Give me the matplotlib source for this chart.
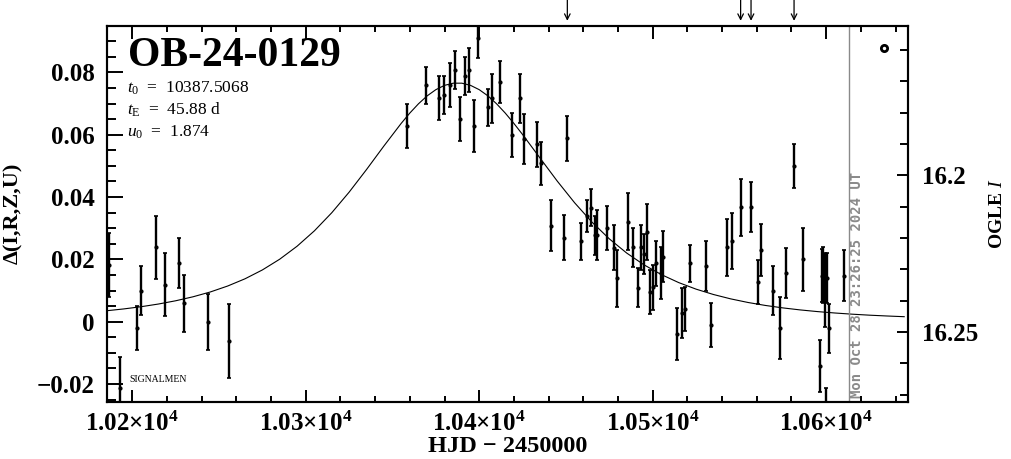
import numpy as np
from matplotlib import pyplot as plt
from matplotlib.ticker import MultipleLocator, FixedLocator, FixedFormatter

# photometry (HJD - 2450000, delta mag, error)
hjd = [10186.6, 10192.9, 10202.7, 10204.8, 10213.7, 10218.9, 10226.8, 10229.8, 10243.5, 10255.9,
       10358.2, 10369.2, 10377.0, 10379.9, 10383.0, 10386.0, 10388.9, 10391.8, 10394.1, 10397.0,
       10399.3, 10405.2, 10407.2, 10412.0, 10418.7, 10423.7, 10426.0, 10433.2, 10435.6, 10441.1,
       10448.9, 10450.8, 10458.9, 10462.0, 10464.3, 10466.5, 10468.1, 10473.9, 10477.7, 10479.7,
       10486.0, 10488.7, 10491.6, 10493.0, 10495.0, 10496.6, 10498.5, 10499.9, 10502.1, 10504.6,
       10506.0, 10513.8, 10516.7, 10518.9, 10521.7, 10530.6, 10533.8, 10542.7, 10545.9, 10550.7,
       10556.7, 10560.6, 10562.5, 10569.6, 10573.4, 10576.8, 10581.5, 10586.5, 10596.5, 10597.4,
       10598.4, 10599.4, 10600.0, 10600.4, 10601.7, 10610.5]
dmag = [0.0182, -0.0212, -0.0021, 0.0100, 0.0239, 0.0119, 0.0189, 0.0059, -0.0001, -0.0061,
        0.0628, 0.0759, 0.0717, 0.0728, 0.0759, 0.0808, 0.0650, 0.0789, 0.0808, 0.0628,
        0.0911, 0.0688, 0.0717, 0.0770, 0.0599, 0.0717, 0.0586, 0.0569, 0.0508, 0.0308,
        0.0270, 0.0589, 0.0258, 0.0339, 0.0366, 0.0277, 0.0278, 0.0300, 0.0238, 0.0139,
        0.0321, 0.0239, 0.0109, 0.0239, 0.0217, 0.0288, 0.0096, 0.0110, 0.0187, 0.0157,
        0.0209, -0.0039, 0.0027, 0.0040, 0.0187, 0.0179, -0.0011, 0.0239, 0.0259, 0.0367,
        0.0367, 0.0128, 0.0230, 0.0099, -0.0021, 0.0157, 0.0500, 0.0200, -0.0142, 0.0148,
        0.0150, 0.0102, -0.0290, 0.0141, -0.0021, 0.0148]
err = [0.0102, 0.0100, 0.0070, 0.0079, 0.0101, 0.0101, 0.0080, 0.0091, 0.0090, 0.0119,
       0.0071, 0.0060, 0.0070, 0.0060, 0.0071, 0.0060, 0.0071, 0.0060, 0.0071, 0.0082,
       0.0065, 0.0060, 0.0079, 0.0068, 0.0070, 0.0079, 0.0080, 0.0071, 0.0070, 0.0081,
       0.0071, 0.0072, 0.0060, 0.0052, 0.0060, 0.0063, 0.0080, 0.0070, 0.0071, 0.0092,
       0.0092, 0.0063, 0.0063, 0.0072, 0.0063, 0.0091, 0.0070, 0.0072, 0.0072, 0.0083,
       0.0082, 0.0083, 0.0080, 0.0071, 0.0060, 0.0080, 0.0071, 0.0091, 0.0091, 0.0091,
       0.0080, 0.0070, 0.0082, 0.0079, 0.0100, 0.0081, 0.0071, 0.0102, 0.0083, 0.0084,
       0.0090, 0.0118, 0.0078, 0.0080, 0.0079, 0.0082]

# model curve values
model_hjd = [10185, 10195, 10205, 10215, 10225, 10235, 10245, 10255, 10265, 10275,
             10285, 10295, 10305, 10315, 10325, 10335, 10345, 10355, 10360, 10365,
             10370, 10375, 10380, 10385, 10390, 10395, 10400, 10405, 10410, 10415,
             10420, 10425, 10435, 10445, 10455, 10465, 10475, 10485, 10495, 10505,
             10515, 10525, 10535, 10545, 10555, 10565, 10575, 10585, 10595, 10605,
             10615, 10625, 10635, 10645]
model_dmag = [0.00349, 0.00408, 0.00479, 0.00565, 0.00670, 0.00798, 0.00953, 0.01144, 0.01376, 0.01660,
              0.02005, 0.02421, 0.02916, 0.03496, 0.04156, 0.04880, 0.05634, 0.06363, 0.06696, 0.06994,
              0.07248, 0.07447, 0.07585, 0.07655, 0.07655, 0.07585, 0.07447, 0.07248, 0.06994, 0.06696,
              0.06363, 0.06007, 0.05257, 0.04511, 0.03816, 0.03195, 0.02658, 0.02203, 0.01824, 0.01511,
              0.01254, 0.01044, 0.00872, 0.00731, 0.00615, 0.00520, 0.00442, 0.00377, 0.00323, 0.00278,
              0.00240, 0.00208, 0.00182, 0.00159]

event_name = 'OB-24-0129'
t0_text = '10387.5068'
tE_text = '45.88 d'
u0_text = '1.874'
arrow_hjd = [10450.8, 10550.7, 10556.7, 10581.5]
now_hjd = 10612.9
now_text = 'Mon Oct 28 23:26:25 2024 UT'

xticks = [10200, 10300, 10400, 10500, 10600]
xticklabels = ['1.02\u00d710$^{\\mathbf{4}}$', '1.03\u00d710$^{\\mathbf{4}}$', '1.04\u00d710$^{\\mathbf{4}}$',
               '1.05\u00d710$^{\\mathbf{4}}$', '1.06\u00d710$^{\\mathbf{4}}$']
yticks = [-0.02, 0, 0.02, 0.04, 0.06, 0.08]
yticklabels = ['\u22120.02', '0', '0.02', '0.04', '0.06', '0.08']
magticks = [16.2, 16.25]
magticklabels = ['16.2', '16.25']

plt.rcParams['font.family'] = ['Liberation Serif', 'DejaVu Serif']
plt.rcParams['mathtext.fontset'] = 'custom'
plt.rcParams['mathtext.rm'] = 'Liberation Serif'
plt.rcParams['mathtext.it'] = 'Liberation Serif:italic'
plt.rcParams['mathtext.bf'] = 'Liberation Serif:bold'

fig = plt.figure(figsize=(10.11, 4.59), dpi=100)
ax = fig.add_axes([0.1063, 0.1248, 0.7915, 0.8192])

ax.plot(model_hjd, model_dmag, color='k', lw=0.8)
ax.errorbar(hjd, dmag, yerr=err, fmt='o', ms=2, color='k', ecolor='k',
            elinewidth=1.7, capsize=1.6, capthick=1.2)

ax.set_xlim(10185.7, 10647.0)
ax.set_ylim(-0.0257, 0.0950)

ax.xaxis.set_major_locator(FixedLocator(xticks))
ax.xaxis.set_major_formatter(FixedFormatter(xticklabels))
ax.xaxis.set_minor_locator(MultipleLocator(20))
ax.yaxis.set_major_locator(FixedLocator(yticks))
ax.yaxis.set_major_formatter(FixedFormatter(yticklabels))
ax.yaxis.set_minor_locator(MultipleLocator(0.005))

ax.tick_params(axis='x', which='both', direction='in', top=True, bottom=True, width=1.4)
ax.tick_params(axis='x', which='major', length=9, pad=7, labelsize=18)
ax.tick_params(axis='x', which='minor', length=4.5)
ax.tick_params(axis='y', which='both', direction='in', left=True, right=False, width=1.4)
ax.tick_params(axis='y', which='major', length=11.5, pad=9, labelsize=18)
ax.tick_params(axis='y', which='minor', length=6.5)
for lab in ax.get_xticklabels() + ax.get_yticklabels():
    lab.set_fontweight('bold')
for sp in ax.spines.values():
    sp.set_linewidth(1.5)

ax.set_xlabel('HJD \u2212 2450000', fontsize=17.5, fontweight='bold', labelpad=0)
ax.set_ylabel('\u0394(I,R,Z,U)', fontsize=16, fontweight='bold', labelpad=10)

# OGLE I magnitude scale on the right
ax2 = ax.twinx()
ax2.set_ylim(16.2723, 16.1523)
ax2.yaxis.set_major_locator(FixedLocator(magticks))
ax2.yaxis.set_major_formatter(FixedFormatter(magticklabels))
ax2.yaxis.set_minor_locator(MultipleLocator(0.01))
ax2.tick_params(axis='y', which='both', direction='in', width=1.4)
ax2.tick_params(axis='y', which='major', length=8, pad=10, labelsize=18)
ax2.tick_params(axis='y', which='minor', length=5.5)
for lab in ax2.get_yticklabels():
    lab.set_fontweight('bold')
for sp in ax2.spines.values():
    sp.set_linewidth(1.5)
ax2.set_ylabel('OGLE $\\mathit{I}$', fontsize=14, fontweight='bold', labelpad=8)

# current time marker
ax.axvline(now_hjd, color='#8a8a8a', lw=1.0)
ax.text(now_hjd + 0.9, -0.0245, now_text, rotation=90, ha='left', va='bottom',
        fontsize=10, fontweight='bold', color='#8a8a8a', family='DejaVu Sans Mono')

# alert arrows above the frame
for d in arrow_hjd:
    ax.annotate('', xy=(d, 1.013), xycoords=('data', 'axes fraction'),
                xytext=(d, 1.07), textcoords=('data', 'axes fraction'),
                arrowprops=dict(arrowstyle='->', lw=0.9, color='k', shrinkA=0, shrinkB=0),
                annotation_clip=False)

ax.text(0.026, 0.919, event_name, transform=ax.transAxes, fontsize=30, fontweight='bold',
        ha='left', va='center')
ax.text(0.025, 0.834, '$t_0$  =  ' + t0_text, transform=ax.transAxes, fontsize=12.5, ha='left', va='center')
ax.text(0.025, 0.776, '$t_{\\rm E}$  =  ' + tE_text, transform=ax.transAxes, fontsize=12.5, ha='left', va='center')
ax.text(0.025, 0.717, '$u_0$  =  ' + u0_text, transform=ax.transAxes, fontsize=12.5, ha='left', va='center')
ax.text(0.027, 0.058, 'SIGNALMEN', transform=ax.transAxes, fontsize=7, ha='left', va='center')
ax.plot([0.9704], [0.9407], 'o', transform=ax.transAxes, ms=4.5, mfc='white', mec='k', mew=2)

fig.savefig('out.png', dpi=100)
